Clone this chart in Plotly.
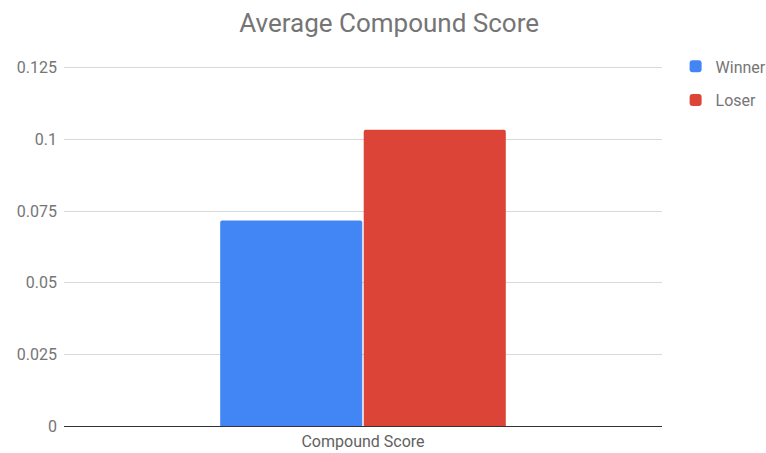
import plotly.graph_objects as go

categories = ["Compound Score"]
series_names = ["Winner", "Loser"]
winner_values = [0.0717]
loser_values = [0.1034]
colors = ["#4285f4", "#db4437"]

fig = go.Figure()
for name, vals, col in zip(series_names, [winner_values, loser_values], colors):
    fig.add_trace(go.Bar(x=categories, y=vals, name=name, marker_color=col,
                         marker_line_width=0, legendgroup=name))

fig.update_layout(
    width=766, height=453,
    margin=dict(l=64, r=104, t=66, b=27, autoexpand=False),
    paper_bgcolor="white", plot_bgcolor="white",
    font=dict(family="Roboto", color="#757575", size=16),
    title=dict(text="Average Compound Score", x=0.508, xanchor="center", y=0.95, yanchor="middle",
               font=dict(size=26, color="#757575", family="Roboto")),
    barmode="group", bargap=0.52, bargroupgap=0.01, barcornerradius=2,
    legend=dict(xref="container", yref="container", x=0.882, xanchor="left",
                y=0.816, yanchor="middle", tracegroupgap=10,
                font=dict(size=16, color="#757575")),
    showlegend=True,
)
fig.update_yaxes(range=[0, 0.1256], tickvals=[0, 0.025, 0.05, 0.075, 0.1, 0.125],
                 ticktext=["0", "0.025", "0.05", "0.075", "0.1", "0.125"],
                 showgrid=True, gridcolor="#d9d9d9", gridwidth=1,
                 zeroline=True, zerolinecolor="#333333", zerolinewidth=1,
                 ticks="", ticklabelstandoff=6, tickfont=dict(size=16, color="#757575"))
fig.update_xaxes(showline=False, ticks="", ticklabelstandoff=4,
                 tickfont=dict(size=16, color="#616161"))

fig.write_html("out.html", config={"displayModeBar": False},
               post_script="document.body.style.margin='0';")
